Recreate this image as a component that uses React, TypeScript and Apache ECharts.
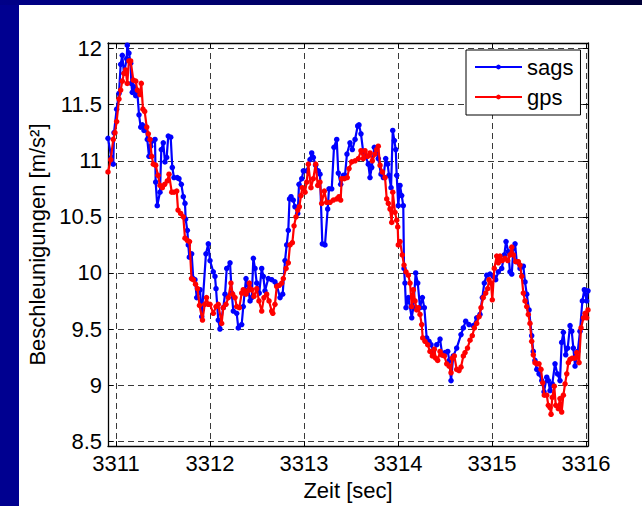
import React, { useEffect, useRef } from "react";
import * as echarts from "echarts";

// Time base of the record (seconds)
const T0 = 3311;

// sags acceleration: time offset from T0 [s] and magnitude [m/s^2]
const sagsTime = [
  -0.085, -0.05, -0.029, -0.021, 0.007, 0.032, 0.05, 0.067, 0.085, 0.114, 0.12, 0.138, 0.156, 0.163,
  0.173, 0.191, 0.21, 0.227, 0.245, 0.263, 0.28, 0.298, 0.316, 0.333, 0.351, 0.369, 0.397, 0.415,
  0.422, 0.439, 0.468, 0.482, 0.503, 0.521, 0.539, 0.556, 0.582, 0.599, 0.617, 0.652, 0.67, 0.695,
  0.716, 0.734, 0.741, 0.759, 0.769, 0.78, 0.805, 0.822, 0.84, 0.859, 0.894, 0.912, 0.957, 0.982,
  1.0, 1.035, 1.053, 1.064, 1.088, 1.106, 1.141, 1.16, 1.178, 1.213, 1.231, 1.248, 1.284, 1.301,
  1.337, 1.354, 1.383, 1.407, 1.426, 1.444, 1.461, 1.479, 1.497, 1.524, 1.55, 1.567, 1.585, 1.62,
  1.656, 1.691, 1.71, 1.745, 1.773, 1.798, 1.816, 1.833, 1.846, 1.862, 1.886, 1.904, 1.933, 1.947,
  1.976, 1.993, 2.029, 2.064, 2.082, 2.099, 2.124, 2.152, 2.17, 2.195, 2.223, 2.252, 2.266, 2.295,
  2.319, 2.348, 2.365, 2.39, 2.418, 2.436, 2.457, 2.489, 2.514, 2.543, 2.571, 2.585, 2.606, 2.631,
  2.656, 2.684, 2.702, 2.72, 2.748, 2.773, 2.79, 2.819, 2.844, 2.869, 2.89, 2.904, 2.926, 2.944,
  2.961, 2.976, 2.986, 3.003, 3.021, 3.039, 3.056, 3.064, 3.074, 3.085, 3.11, 3.146, 3.163, 3.188,
  3.21, 3.234, 3.259, 3.28, 3.305, 3.33, 3.351, 3.376, 3.412, 3.447, 3.471, 3.5, 3.529, 3.546,
  3.564, 3.588, 3.624, 3.67, 3.695, 3.72, 3.755, 3.801, 3.837, 3.872, 3.897, 3.918, 3.944, 3.979,
  4.014, 4.039, 4.067, 4.103, 4.131, 4.149, 4.173, 4.191, 4.21, 4.227, 4.245, 4.263, 4.298, 4.333,
  4.351, 4.369, 4.394, 4.422, 4.439, 4.457, 4.476, 4.5, 4.529, 4.553, 4.582, 4.599, 4.617, 4.641,
  4.67, 4.695, 4.723, 4.741, 4.759, 4.784, 4.805, 4.83, 4.848, 4.865, 4.883, 4.912, 4.936, 4.961,
  4.982, 5.007, 5.021,
];
const sagsAcc = [
  11.2, 11.03, 10.97, 11.25, 11.46, 11.6, 11.86, 11.94, 11.78, 11.91, 12.03, 11.96, 11.87, 11.69,
  11.61, 11.66, 11.58, 11.61, 11.41, 11.3, 11.32, 11.27, 11.3, 11.19, 11.04, 11.13, 11.18, 11.19,
  10.81, 10.6, 10.72, 11.1, 11.16, 10.99, 11.03, 11.22, 11.21, 10.94, 10.85, 10.85, 10.84, 10.79,
  10.68, 10.62, 10.48, 10.38, 10.25, 10.14, 10.17, 9.95, 9.94, 9.78, 9.85, 9.61, 10.17, 10.26,
  10.11, 10.01, 9.97, 9.86, 9.58, 9.5, 9.69, 9.81, 10.04, 10.09, 9.82, 9.66, 9.64, 9.51,
  9.54, 9.7, 9.95, 9.85, 9.75, 9.78, 10.13, 10.04, 9.91, 9.82, 10.04, 9.97, 9.84, 9.95,
  9.94, 9.92, 9.89, 9.78, 9.81, 10.11, 10.25, 10.38, 10.66, 10.68, 10.65, 10.59, 10.53, 10.79,
  10.84, 10.91, 10.91, 11.01, 11.07, 11.03, 10.96, 10.91, 10.88, 10.26, 10.25, 10.57, 10.75, 10.75,
  11.12, 11.19, 10.89, 10.79, 10.87, 10.87, 11.06, 11.16, 11.1, 11.19, 11.31, 11.32, 11.24, 11.07,
  11.04, 10.97, 10.85, 10.94, 11.12, 11.09, 11.02, 10.88, 10.85, 11.02, 10.97, 10.87, 10.76, 11.27,
  11.18, 11.1, 10.87, 10.6, 10.78, 10.69, 10.6, 10.04, 9.91, 9.69, 9.78, 9.6, 9.69, 10.0,
  9.91, 9.69, 9.78, 9.69, 9.42, 9.39, 9.36, 9.3, 9.36, 9.41, 9.27, 9.29, 9.3, 9.22,
  9.04, 9.26, 9.33, 9.45, 9.51, 9.57, 9.54, 9.53, 9.6, 9.63, 9.78, 9.91, 9.98, 9.99,
  9.97, 9.94, 10.01, 10.04, 10.16, 10.28, 10.19, 10.01, 9.99, 10.22, 10.26, 10.1, 10.04, 10.06,
  9.92, 9.81, 9.67, 9.44, 9.3, 9.22, 9.14, 9.1, 9.04, 8.94, 9.07, 9.04, 8.95, 9.01,
  9.19, 9.1, 9.04, 9.38, 9.47, 9.27, 9.33, 9.53, 9.48, 9.33, 9.17, 9.3, 9.48, 9.75,
  9.85, 9.75, 9.84,
];

// gps acceleration: time offset from T0 [s] and magnitude [m/s^2]
const gpsTime = [
  -0.085, -0.056, -0.029, -0.011, 0.007, 0.032, 0.05, 0.067, 0.085, 0.103, 0.12, 0.138, 0.156, 0.184,
  0.21, 0.227, 0.255, 0.269, 0.287, 0.305, 0.327, 0.344, 0.362, 0.38, 0.397, 0.422, 0.447, 0.468,
  0.493, 0.518, 0.546, 0.564, 0.593, 0.617, 0.646, 0.66, 0.688, 0.716, 0.734, 0.759, 0.782, 0.803,
  0.822, 0.846, 0.867, 0.888, 0.92, 0.944, 0.963, 0.982, 1.0, 1.035, 1.064, 1.088, 1.124, 1.141,
  1.17, 1.195, 1.223, 1.241, 1.266, 1.284, 1.312, 1.337, 1.354, 1.383, 1.401, 1.418, 1.444, 1.468,
  1.497, 1.521, 1.55, 1.574, 1.603, 1.628, 1.656, 1.668, 1.691, 1.71, 1.737, 1.763, 1.78, 1.809,
  1.833, 1.851, 1.876, 1.894, 1.915, 1.933, 1.95, 1.968, 1.982, 2.011, 2.029, 2.046, 2.074, 2.099,
  2.124, 2.146, 2.17, 2.188, 2.216, 2.241, 2.277, 2.312, 2.348, 2.372, 2.39, 2.401, 2.429, 2.46,
  2.479, 2.507, 2.543, 2.578, 2.606, 2.631, 2.649, 2.678, 2.702, 2.727, 2.755, 2.773, 2.79, 2.809,
  2.833, 2.862, 2.88, 2.897, 2.915, 2.933, 2.944, 2.968, 2.986, 2.997, 3.003, 3.021, 3.046, 3.064,
  3.085, 3.11, 3.128, 3.146, 3.163, 3.181, 3.199, 3.216, 3.234, 3.252, 3.263, 3.287, 3.316, 3.34,
  3.365, 3.386, 3.401, 3.422, 3.447, 3.465, 3.493, 3.518, 3.543, 3.564, 3.578, 3.599, 3.624, 3.649,
  3.67, 3.695, 3.713, 3.739, 3.766, 3.79, 3.812, 3.837, 3.862, 3.883, 3.907, 3.933, 3.954, 3.968,
  3.989, 4.003, 4.024, 4.05, 4.067, 4.085, 4.11, 4.138, 4.167, 4.191, 4.21, 4.227, 4.252, 4.28,
  4.298, 4.316, 4.333, 4.351, 4.369, 4.386, 4.404, 4.422, 4.439, 4.457, 4.476, 4.5, 4.521, 4.539,
  4.556, 4.582, 4.599, 4.617, 4.628, 4.641, 4.662, 4.678, 4.705, 4.723, 4.741, 4.759, 4.777, 4.795,
  4.812, 4.83, 4.854, 4.883, 4.901, 4.926, 4.947, 4.973, 4.99, 5.007, 5.021,
];
const gpsAcc = [
  10.9, 11.01, 11.19, 11.25, 11.35, 11.55, 11.63, 11.71, 11.78, 11.81, 11.69, 11.89, 11.89, 11.72,
  11.71, 11.63, 11.59, 11.69, 11.46, 11.44, 11.3, 11.24, 11.19, 11.04, 10.97, 10.96, 10.87, 10.78,
  10.76, 10.79, 10.82, 10.88, 10.72, 10.72, 10.73, 10.56, 10.53, 10.5, 10.31, 10.29, 10.28, 9.95,
  9.94, 9.9, 9.86, 9.71, 9.58, 9.72, 9.78, 9.72, 9.72, 9.64, 9.7, 9.72, 9.55, 9.69,
  9.72, 9.78, 9.91, 9.81, 9.78, 9.7, 9.69, 9.82, 9.85, 9.81, 9.84, 9.91, 9.85, 9.79,
  9.86, 9.75, 9.66, 9.78, 9.81, 9.75, 9.66, 9.64, 9.72, 9.88, 9.89, 9.91, 9.95, 10.04,
  10.09, 10.25, 10.27, 10.42, 10.5, 10.56, 10.59, 10.69, 10.76, 10.72, 10.81, 10.97, 10.76, 10.84,
  10.97, 10.78, 10.81, 10.62, 10.73, 10.63, 10.63, 10.65, 10.66, 10.68, 10.65, 10.84, 10.84, 10.85,
  10.93, 10.99, 11.0, 11.02, 11.09, 11.02, 11.09, 11.04, 11.07, 11.0, 11.06, 11.1, 11.13, 10.96,
  10.9, 10.85, 10.66, 10.62, 10.57, 10.45, 10.72, 10.54, 10.47, 10.41, 10.25, 10.28, 10.16, 10.07,
  10.01, 9.98, 9.91, 9.7, 9.85, 9.75, 9.67, 9.69, 9.63, 9.54, 9.42, 9.39, 9.36, 9.3,
  9.26, 9.32, 9.24, 9.22, 9.3, 9.27, 9.26, 9.19, 9.17, 9.11, 9.24, 9.26, 9.14, 9.13,
  9.16, 9.26, 9.29, 9.33, 9.4, 9.44, 9.51, 9.55, 9.61, 9.69, 9.78, 9.82, 9.86, 9.94,
  9.91, 9.76, 10.04, 10.15, 10.09, 10.15, 10.11, 10.13, 10.11, 10.16, 10.23, 10.16, 10.1, 10.1,
  10.07, 9.97, 9.82, 9.75, 9.7, 9.63, 9.55, 9.39, 9.27, 9.2, 9.19, 9.19, 9.14, 9.02,
  8.91, 8.91, 8.82, 8.8, 8.74, 8.89, 8.99, 8.82, 8.79, 8.88, 8.76, 8.91, 9.01, 9.1,
  9.2, 9.23, 9.24, 9.24, 9.29, 9.2, 9.51, 9.6, 9.64, 9.6, 9.67,
];

// Tick positions
const xTicks = [3311, 3312, 3313, 3314, 3315, 3316];
const yTicks = [8.5, 9, 9.5, 10, 10.5, 11, 11.5, 12];

const X_MIN = 3310.915;
const X_MAX = 3316.021;
const Y_MIN = 8.456;
const Y_MAX = 12.05;

const FONT = "'Liberation Sans', Arial, Helvetica, sans-serif";
const FONT_SIZE = 22;

const pairs = (t: number[], v: number[]) => t.map((dt, i) => [T0 + dt, v[i]]);

export default function App() {
  const ref = useRef<HTMLDivElement>(null);

  useEffect(() => {
    if (!ref.current) return;
    const chart = echarts.init(ref.current, null, { renderer: "svg" });

    const gridLine = { show: true, lineStyle: { color: "#3a3a3a", type: [6, 4] as any, width: 1 } };
    const line = { show: true, onZero: false, lineStyle: { color: "#000", width: 1.3 } };
    const tick = (values: number[]) => ({
      show: true,
      inside: true,
      length: 5,
      customValues: values,
      lineStyle: { color: "#000" },
    });

    chart.setOption({
      animation: false,
      backgroundColor: "#ffffff",
      textStyle: { fontFamily: FONT },
      graphic: [
        {
          type: "rect",
          shape: { x: 0, y: 0, width: 19, height: 506 },
          style: { fill: "#000090" },
          silent: true,
        },
        {
          type: "rect",
          shape: { x: 0, y: 0, width: 642, height: 5 },
          style: {
            fill: new echarts.graphic.LinearGradient(0, 0, 1, 0, [
              { offset: 0, color: "#000088" },
              { offset: 1, color: "#000038" },
            ]),
          },
          silent: true,
        },
      ],
      grid: { left: 108, right: 54, top: 43, bottom: 58, containLabel: false },
      legend: {
        orient: "vertical",
        left: 466,
        top: 50,
        backgroundColor: "#fff",
        borderColor: "#000",
        borderWidth: 1,
        borderRadius: 0,
        padding: [6, 7, 7, 8],
        itemWidth: 47,
        itemHeight: 6,
        itemGap: 8,
        textStyle: { fontFamily: FONT, fontSize: FONT_SIZE, color: "#000", padding: [0, 0, 0, 0] },
        data: ["sags", "gps"],
      },
      xAxis: [
        {
          type: "value",
          min: X_MIN,
          max: X_MAX,
          position: "bottom",
          name: "Zeit [sec]",
          nameLocation: "middle",
          nameGap: 31,
          nameTextStyle: { fontFamily: FONT, fontSize: FONT_SIZE, color: "#000" },
          axisLine: line,
          axisTick: tick(xTicks),
          axisLabel: {
            show: true,
            customValues: xTicks,
            margin: 6,
            fontFamily: FONT,
            fontSize: FONT_SIZE,
            color: "#000",
            formatter: (v: number) => String(Math.round(v)),
          },
          splitLine: gridLine,
        },
        {
          type: "value",
          min: X_MIN,
          max: X_MAX,
          position: "top",
          axisLine: line,
          axisTick: tick(xTicks),
          axisLabel: { show: false },
          splitLine: { show: false },
        },
      ],
      yAxis: [
        {
          type: "value",
          min: Y_MIN,
          max: Y_MAX,
          position: "left",
          name: "Beschleunigungen [m/s²]",
          nameLocation: "middle",
          nameGap: 57,
          nameTextStyle: { fontFamily: FONT, fontSize: FONT_SIZE, color: "#000" },
          axisLine: line,
          axisTick: tick(yTicks),
          axisLabel: {
            show: true,
            customValues: yTicks,
            margin: 6,
            fontFamily: FONT,
            fontSize: FONT_SIZE,
            color: "#000",
            formatter: (v: number) => String(Math.round(v * 10) / 10),
          },
          splitLine: gridLine,
        },
        {
          type: "value",
          min: Y_MIN,
          max: Y_MAX,
          position: "right",
          axisLine: line,
          axisTick: tick(yTicks),
          axisLabel: { show: false },
          splitLine: { show: false },
        },
      ],
      series: [
        {
          name: "sags",
          type: "line",
          xAxisIndex: 0,
          yAxisIndex: 0,
          data: pairs(sagsTime, sagsAcc),
          color: "#0000ff",
          lineStyle: { color: "#0000ff", width: 2.2 },
          itemStyle: { color: "#0000ff" },
          symbol: "circle",
          symbolSize: 5.5,
          showSymbol: true,
          showAllSymbol: true,
          z: 2,
        },
        {
          name: "gps",
          type: "line",
          xAxisIndex: 0,
          yAxisIndex: 0,
          data: pairs(gpsTime, gpsAcc),
          color: "#ff0000",
          lineStyle: { color: "#ff0000", width: 2.2 },
          itemStyle: { color: "#ff0000" },
          symbol: "circle",
          symbolSize: 5.5,
          showSymbol: true,
          showAllSymbol: true,
          z: 3,
        },
      ],
    });

    return () => chart.dispose();
  }, []);

  return (
    <div
      ref={ref}
      style={{ position: "fixed", left: 0, top: 0, width: 642, height: 506 }}
    />
  );
}
